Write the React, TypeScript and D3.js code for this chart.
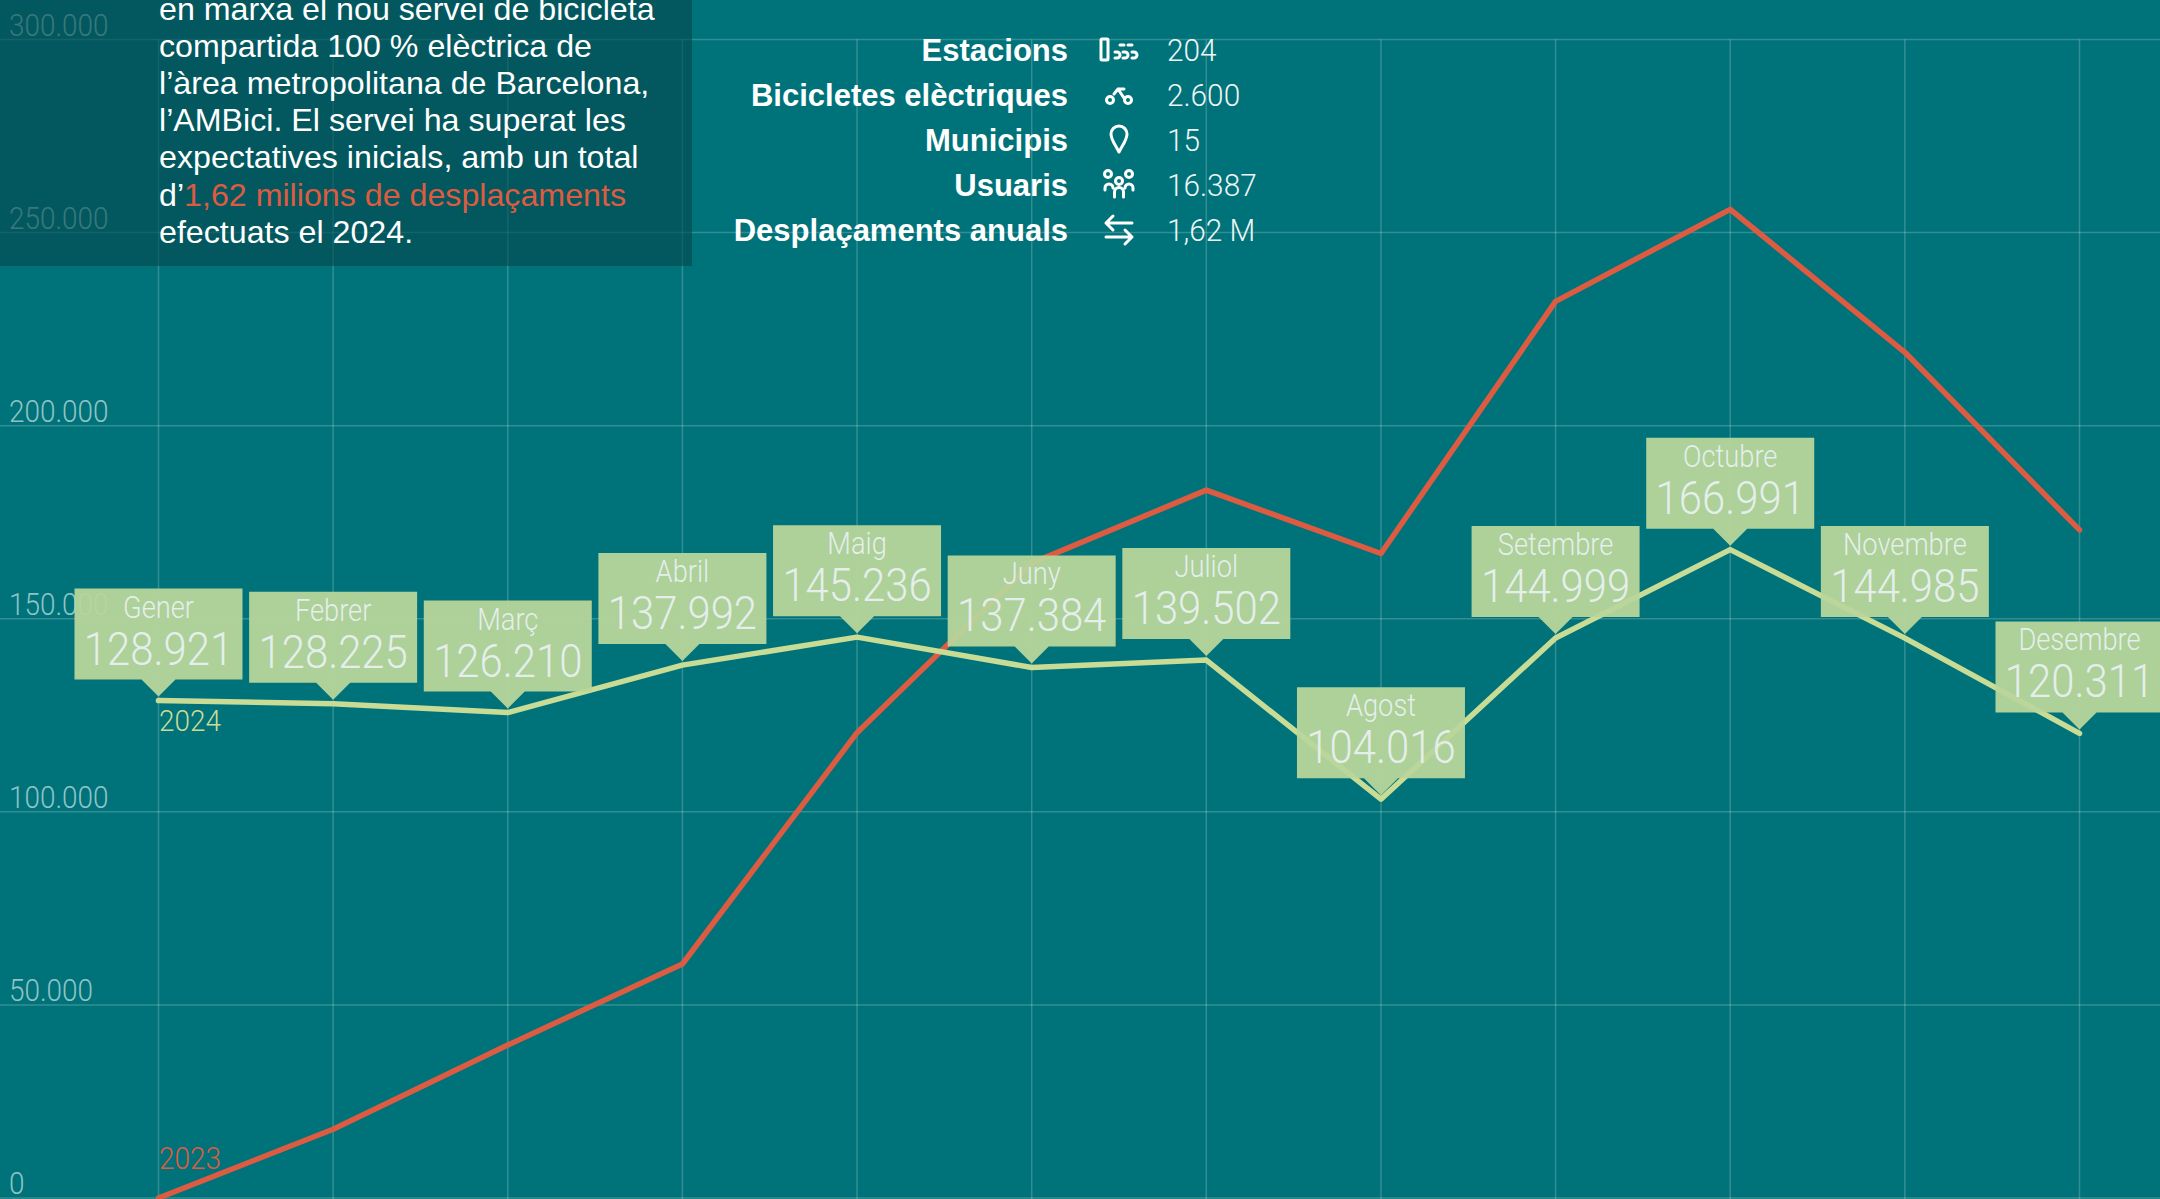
import React from "react";
import * as d3 from "d3";

const months = ["Gener","Febrer","Març","Abril","Maig","Juny","Juliol","Agost","Setembre","Octubre","Novembre","Desembre"];
const values2024 = [128921,128225,126210,137992,145236,137384,139502,104016,144999,166991,144985,120311];
// Where the 2024 line actually sits in the picture (differs slightly from its printed labels)
const plotted2024 = [128800,128000,125700,137992,145236,137384,139300,103270,144999,167900,144985,120311];
const values2023 = [0,17800,39600,60600,120500,164400,183300,166900,232200,256000,219000,173000];
const yTicks = [0,50000,100000,150000,200000,250000,300000];
const statLabels = ["Estacions","Bicicletes elèctriques","Municipis","Usuaris","Desplaçaments anuals"];
const statValues = ["204","2.600","15","16.387","1,62 M"];
const introBefore = ["en marxa el nou servei de bicicleta","compartida 100 % elèctrica de","l’àrea metropolitana de Barcelona,","l’AMBici. El servei ha superat les","expectatives inicials, amb un total"];

const W = 2160, H = 1199;
const BG = "#00727a", CORAL = "#dd5c41", LIME = "#c9dc95", BOX = "#b9d69b", BOXTEXT = "#e4efec";
const fmt = (v: number) => d3.format(",")(v).replace(/,/g, ".");

const x = d3.scalePoint<number>().domain(d3.range(12)).range([158.5, 2079.5]);
const y = d3.scaleLinear().domain([0, 300000]).range([1198, 39.5]);
const line = d3.line<number>().x((_, i) => x(i)!).y(d => y(d));

function Light({ tx, ty, size, sx = 0.9, anchor = "middle", fill, children, opacity }: any) {
  return (
    <text transform={`translate(${tx},${ty}) scale(${sx},1)`} fontFamily="Roboto" fontWeight={300} fontSize={size}
      textAnchor={anchor} fill={fill} opacity={opacity}>{children}</text>
  );
}

function Icon({ i, cx, cy }: { i: number; cx: number; cy: number }) {
  const s = { fill: "none", stroke: "#fff", strokeWidth: 3, strokeLinecap: "round" as const, strokeLinejoin: "round" as const };
  return (
    <g transform={`translate(${cx},${cy})`} {...s}>
      {i === 0 && (<g>
        <rect x={-18} y={-11} width={7} height={21} rx={1} />
        <path d="M1 -5h4 M9 -5h4" />
        {[-4, 4, 13].map(d => <path key={d} d={`M${d} 2h2a3 3 0 0 1 0 6h-2`} />)}
      </g>)}
      {i === 1 && (<g>
        <circle cx={-9} cy={5} r={3.5} /><circle cx={9} cy={5} r={3.5} />
        <path d="M-5 -1L-1 -6L5 3 M-1 -6H5" />
      </g>)}
      {i === 2 && <path d="M0 12C-4 4 -8 0 -8 -6A8 8 0 1 1 8 -6C8 0 4 4 0 12Z" />}
      {i === 3 && (<g>
        <circle cx={-11} cy={-11} r={3.5} /><circle cx={10} cy={-11} r={3.5} /><circle cx={0} cy={-4} r={3.5} />
        <path d="M-4.5 12V7A4.5 4.5 0 0 1 4.5 7V12 M-14 5V3A4 4 0 0 1 -6 3 M14 5V3A4 4 0 0 0 6 3" />
      </g>)}
      {i === 4 && <path d="M13 -7H-13L-6 -14 M-13 -7L-6 0 M-13 7H13L6 0 M13 7L6 14" />}
    </g>
  );
}

export default function App() {
  return (
    <svg width={W} height={H} style={{ position: "absolute", left: 0, top: 0, display: "block" }}>
      <rect width={W} height={H} fill={BG} />
      <g stroke="#fff" strokeOpacity={0.2} strokeWidth={1.5}>
        {yTicks.map(t => <line key={t} x1={0} x2={W} y1={y(t)} y2={y(t)} />)}
        {months.map((_, i) => <line key={i} x1={x(i)} x2={x(i)} y1={y(300000)} y2={H} />)}
      </g>
      {yTicks.map(t => (
        <Light key={t} tx={9} ty={y(t) - 4} size={31} sx={0.9} anchor="start" fill="#a7d3d3" opacity={0.85}>{t === 0 ? "0" : fmt(t)}</Light>
      ))}
      <rect x={0} y={0} width={692} height={266} fill="#04484d" opacity={0.62} />
      <g fontFamily="'Liberation Sans'" fontSize={32.2} fill="#fff">
        {introBefore.map((s, i) => <text key={i} x={159} y={19.5 + i * 37.2}>{s}</text>)}
        <text x={159} y={19.5 + 5 * 37.2}>d’<tspan fill={CORAL}>1,62 milions de desplaçaments</tspan></text>
        <text x={159} y={19.5 + 6 * 37.2}>efectuats el 2024.</text>
      </g>
      {statLabels.map((s, i) => {
        const by = 61 + i * 45;
        return (
          <g key={s}>
            <text x={1068} y={by} textAnchor="end" fontFamily="'Liberation Sans'" fontWeight={700} fontSize={31} fill="#fff">{s}</text>
            <Icon i={i} cx={1119} cy={by - 11} />
            <Light tx={1167} ty={by} size={32} sx={0.93} anchor="start" fill="#eef6f5">{statValues[i]}</Light>
          </g>
        );
      })}
      <path d={line(values2023)!} fill="none" stroke={CORAL} strokeWidth={5.5} strokeLinecap="round" strokeLinejoin="round" />
      <path d={line(plotted2024)!} fill="none" stroke={LIME} strokeWidth={5.5} strokeLinecap="round" strokeLinejoin="round" />
      <Light tx={159} ty={731} size={30} sx={0.93} anchor="start" fill={LIME}>2024</Light>
      <Light tx={159} ty={1169} size={31} anchor="start" fill={CORAL}>2023</Light>
      {months.map((m, i) => {
        const px = x(i)!, py = y(plotted2024[i]);
        const bottom = py - 21, top = bottom - 91;
        return (
          <g key={m}>
            <path d={`M${px - 84} ${top}H${px + 84}V${bottom}H${px + 17}L${px} ${py - 4}L${px - 17} ${bottom}H${px - 84}Z`} fill={BOX} fillOpacity={0.94} />
            <Light tx={px} ty={top + 29} size={31} sx={0.88} fill={BOXTEXT}>{m}</Light>
            <Light tx={px} ty={top + 76} size={46} sx={0.91} fill={BOXTEXT}>{fmt(values2024[i])}</Light>
          </g>
        );
      })}
    </svg>
  );
}
